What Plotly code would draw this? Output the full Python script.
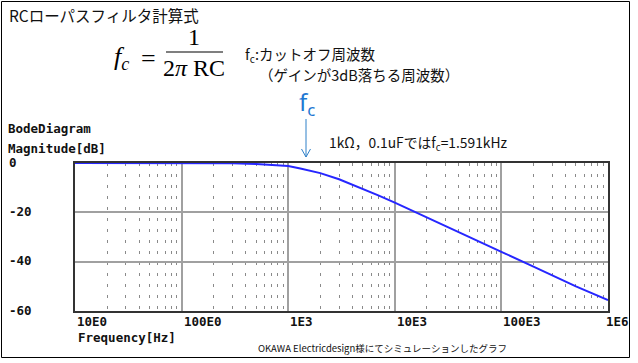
import math
import plotly.graph_objects as go

# ---- data ----
freq_hz = [10, 100, 200, 300, 500, 800, 1000, 1300, 1591, 2000, 3000, 5000, 7000,
           10000, 20000, 50000, 100000, 200000, 500000, 1000000]
mag_db = [0.0, 0.0, -0.07, -0.15, -0.4, -0.9, -1.2, -2.2, -3.0, -4.1, -6.6, -10.4,
          -13.1, -16.1, -22.0, -30.0, -36.0, -42.0, -50.0, -55.6]
x_tick_vals = [10, 100, 1000, 10000, 100000, 1000000]
x_tick_text = ["10E0", "100E0", "1E3", "10E3", "100E3", "1E6"]
y_tick_vals = [0, -20, -40, -60]
y_tick_text = ["0", "-20", "-40", "-60"]

W, H = 638, 363
def px(x):
    return x / W
def py(y):
    return 1 - y / H

PL, PR, PT, PB = 75, 608, 163, 311

fig = go.Figure()
fig.add_trace(go.Scatter(x=freq_hz, y=mag_db, mode="lines",
                         line=dict(color="#2626ff", width=2), hoverinfo="skip"))

mono = dict(family="DejaVu Sans Mono", size=12.5, color="#111")
jp = "Noto Sans CJK JP"

ann = []
for i, (v, t) in enumerate(zip(x_tick_vals, x_tick_text)):
    ann.append(dict(x=math.log10(v), y=py(321), xref="x", yref="paper",
                    text="<b>%s</b>" % t, showarrow=False, xanchor="left",
                    yanchor="middle", xshift=(-4 if i == len(x_tick_vals) - 1 else 0),
                    font=mono))
for v, t in zip(y_tick_vals, y_tick_text):
    ann.append(dict(x=px(7), y=v, xref="paper", yref="y", text="<b>%s</b>" % t,
                    showarrow=False, xanchor="left", yanchor="middle", yshift=1, font=mono))

ann += [
    dict(x=px(76), y=py(337), text="<b>Frequency[Hz]</b>", font=mono),
    dict(x=px(6), y=py(128), text="<b>BodeDiagram</b>", font=mono),
    dict(x=px(6), y=py(148), text="<b>Magnitude[dB]</b>", font=mono),
    dict(x=px(7), y=py(15), text="RCローパスフィルタ計算式",
         font=dict(family=jp, size=15.5, color="#111")),
    dict(x=px(243), y=py(55), text="f<sub>c</sub>:カットオフ周波数",
         font=dict(family=jp, size=14.5, color="#111")),
    dict(x=px(257), y=py(74), text="（ゲインが3dB落ちる周波数）",
         font=dict(family=jp, size=14.5, color="#111")),
    dict(x=px(112), y=py(58), text="<i>f</i><sub><i>c</i></sub>",
         font=dict(family="Liberation Serif", size=26, color="#000")),
    dict(x=px(139), y=py(58), text="=",
         font=dict(family="Liberation Serif", size=26, color="#000")),
    dict(x=px(194), y=py(37), text="1", xanchor="center",
         font=dict(family="Liberation Serif", size=24, color="#000")),
    dict(x=px(194), y=py(68), text="2<i>π</i> RC", xanchor="center",
         font=dict(family="Liberation Serif", size=24, color="#000")),
    dict(x=px(297), y=py(103), text="f<sub>c</sub>",
         font=dict(family="Noto Sans", size=24, color="#1e78d2")),
    dict(x=px(327), y=py(143), text="1kΩ，0.1uFではf<sub>c</sub>=1.591kHz",
         font=dict(family=jp, size=13.8, color="#111")),
    dict(x=px(382), y=py(348), text="OKAWA Electricdesign様にてシミュレーションしたグラフ",
         xanchor="center", font=dict(family=jp, size=9.5, color="#111")),
]
for a in ann[len(x_tick_vals) + len(y_tick_vals):]:
    a.setdefault("xref", "paper")
    a.setdefault("yref", "paper")
    a.setdefault("xanchor", "left")
    a["showarrow"] = False
    a["yanchor"] = "middle"

shapes = [
    # outer frame
    dict(type="rect", xref="paper", yref="paper", x0=px(1.5), x1=px(629.5),
         y0=py(357.5), y1=py(1.5), line=dict(color="#000", width=1)),
    # fraction bar
    dict(type="line", xref="paper", yref="paper", x0=px(166), x1=px(223),
         y0=py(52), y1=py(52), line=dict(color="#000", width=1.2)),
    # fc arrow
    dict(type="path", xref="paper", yref="paper",
         path="M %f %f L %f %f M %f %f L %f %f L %f %f" % (
             px(306), py(119), px(306), py(157),
             px(301.5), py(149), px(306), py(157), px(310.5), py(149)),
         line=dict(color="#2f80c8", width=1)),
]

fig.update_layout(
    width=W, height=H, margin=dict(l=0, r=0, t=0, b=0),
    paper_bgcolor="white", plot_bgcolor="white", showlegend=False,
    annotations=ann, shapes=shapes,
    xaxis=dict(type="log", range=[1, 6], domain=[px(PL), px(PR)],
               showticklabels=False, ticks="", dtick=1,
               showgrid=True, gridcolor="#a0a0a0", gridwidth=2,
               showline=True, linecolor="#333", linewidth=2, mirror=True,
               zeroline=False,
               minor=dict(dtick="D1", showgrid=True, gridcolor="#8a8a8a",
                          griddash="3px,8px", gridwidth=1, ticks="")),
    yaxis=dict(range=[-60, 0], domain=[py(PB), py(PT)], dtick=20,
               showticklabels=False, ticks="",
               showgrid=True, gridcolor="#a0a0a0", gridwidth=2,
               showline=True, linecolor="#333", linewidth=2, mirror=True,
               zeroline=False),
)

fig.write_html("out.html", config={"displayModeBar": False},
               post_script="document.body.style.margin='0';document.body.style.overflow='hidden';")
